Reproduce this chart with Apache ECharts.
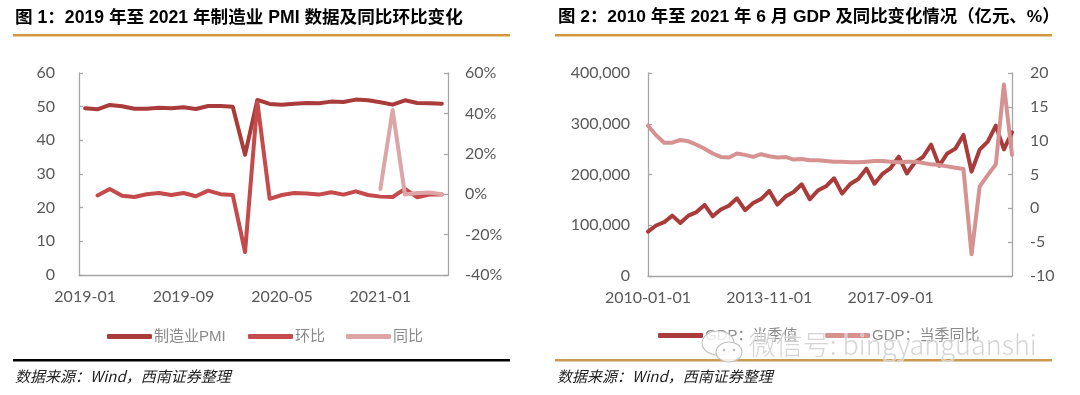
<!DOCTYPE html>
<html>
<head>
<meta charset="utf-8">
<script src="https://cdn.jsdelivr.net/npm/echarts@6/dist/echarts.min.js"></script>
<style>
html,body{margin:0;padding:0;background:#fff;}
#c{width:1080px;height:395px;}
</style>
</head>
<body>
<div id="c"></div>
<script>
// ---- Figure 1 data ----
var pmiMonths = ['2019-01','2019-02','2019-03','2019-04','2019-05','2019-06','2019-07','2019-08','2019-09','2019-10','2019-11','2019-12',
  '2020-01','2020-02','2020-03','2020-04','2020-05','2020-06','2020-07','2020-08','2020-09','2020-10','2020-11','2020-12',
  '2021-01','2021-02','2021-03','2021-04','2021-05','2021-06'];
var pmiValues = [49.5,49.2,50.5,50.1,49.4,49.4,49.7,49.5,49.8,49.3,50.2,50.2,50.0,35.7,52.0,50.8,50.6,50.9,51.1,51.0,51.5,51.4,52.1,51.9,51.3,50.6,51.9,51.1,51.0,50.9];
var pmiMoM = [null,-0.6,2.6,-0.8,-1.4,0.0,0.6,-0.4,0.6,-1.0,1.8,0.0,-0.4,-28.6,45.7,-2.3,-0.4,0.6,0.4,-0.2,1.0,-0.2,1.4,-0.4,-1.2,-1.4,2.6,-1.5,-0.2,-0.2];
var pmiYoY = [null,null,null,null,null,null,null,null,null,null,null,null,null,null,null,null,null,null,null,null,null,null,null,null,2.6,41.7,-0.2,0.6,0.8,0.0];
var pmiLeftTicks = [0,10,20,30,40,50,60];
var pmiRightTicks = ['-40%','-20%','0%','20%','40%','60%'];

// ---- Figure 2 data ----
var gdpQuarters = ['2010Q1','2010Q2','2010Q3','2010Q4','2011Q1','2011Q2','2011Q3','2011Q4','2012Q1','2012Q2','2012Q3','2012Q4',
  '2013Q1','2013Q2','2013Q3','2013Q4','2014Q1','2014Q2','2014Q3','2014Q4','2015Q1','2015Q2','2015Q3','2015Q4',
  '2016Q1','2016Q2','2016Q3','2016Q4','2017Q1','2017Q2','2017Q3','2017Q4','2018Q1','2018Q2','2018Q3','2018Q4',
  '2019Q1','2019Q2','2019Q3','2019Q4','2020Q1','2020Q2','2020Q3','2020Q4','2021Q1','2021Q2'];
var gdpValue = [87500,99500,106000,119000,104500,119000,126000,140000,117600,131000,138500,153000,
  129700,143700,152000,167500,140600,156500,165500,180700,151100,168500,176700,192600,
  162400,181400,191000,211600,181900,201300,212800,235400,202000,223900,234500,258800,
  217200,241500,251000,278000,205700,248900,264900,296300,249300,282900];
var gdpYoY = [12.2,10.8,9.7,9.7,10.1,9.9,9.4,8.8,8.1,7.6,7.5,8.1,7.9,7.6,8.0,7.7,7.5,7.6,7.2,7.3,7.1,7.1,7.0,6.9,
  6.9,6.8,6.8,6.9,7.0,7.0,6.9,6.8,6.9,6.9,6.7,6.5,6.4,6.2,6.0,5.8,-6.8,3.2,4.9,6.5,18.3,7.9];
var gdpTickLabels = ['2010-01-01','2013-11-01','2017-09-01'];
var gdpTickIndex = [0,15,30];

var C_DARK = '#a93b3b', C_MID = '#c44a4b', C_LIGHT = '#dda5a5', C_GDPYOY = '#d69191';
var AX = '#a6a6a6', LBL = '#595959';
var NUMF = 'Lato, "Liberation Sans", sans-serif';
var CJK = '"Liberation Sans", "Noto Sans CJK SC", sans-serif';

var chart = echarts.init(document.getElementById('c'), null, {renderer:'canvas'});

function yAxisBase(extra){
  var o = {
    type:'value',
    axisLine:{show:true, lineStyle:{color:AX, width:1.3}},
    axisTick:{show:true, inside:true, length:4, lineStyle:{color:AX, width:1.3}},
    splitLine:{show:false},
    axisLabel:{color:LBL, fontSize:16, fontFamily:NUMF}
  };
  for (var k in extra) o[k] = extra[k];
  return o;
}
function legendItem(name, left, top){
  return {data:[name], left:left, top:top, itemWidth:45, itemHeight:5, icon:'roundRect',
    textStyle:{color:'#8a8a8a', fontSize:15, fontFamily:CJK, padding:[0,0,0,-3]}};
}

var option = {
  animation:false,
  backgroundColor:'#fff',
  grid:[
    {left:79, right:632, top:73, bottom:120},
    {left:648, right:68, top:73, bottom:119}
  ],
  xAxis:[
    {type:'category', gridIndex:0, data:pmiMonths, boundaryGap:true,
     axisLine:{show:true, lineStyle:{color:AX, width:1.3}}, axisTick:{show:false},
     axisLabel:{interval:7, color:LBL, fontSize:16, fontFamily:NUMF, margin:14}},
    {type:'category', gridIndex:1, data:gdpQuarters, boundaryGap:false,
     axisLine:{show:true, lineStyle:{color:AX, width:1.3}}, axisTick:{show:false},
     axisLabel:{color:LBL, fontSize:16, fontFamily:NUMF, margin:14,
       interval:function(i){ return gdpTickIndex.indexOf(i) >= 0; },
       formatter:function(v, i){ var k = gdpTickIndex.indexOf(i); return k >= 0 ? gdpTickLabels[k] : ''; }}}
  ],
  yAxis:[
    yAxisBase({gridIndex:0, position:'left', min:pmiLeftTicks[0], max:pmiLeftTicks[pmiLeftTicks.length-1], interval:10,
      axisLabel:{color:LBL, fontSize:16, fontFamily:NUMF, margin:24}}),
    yAxisBase({gridIndex:0, position:'right', min:-40, max:60, interval:20,
      axisLabel:{color:LBL, fontSize:16, fontFamily:NUMF, margin:17,
        formatter:function(v){ var i = Math.round((v+40)/20); return pmiRightTicks[i]; }}}),
    yAxisBase({gridIndex:1, position:'left', min:0, max:400000, interval:100000,
      axisLabel:{color:LBL, fontSize:16, fontFamily:NUMF, margin:18,
        formatter:function(v){ return v.toString().replace(/\B(?=(\d{3})+(?!\d))/g, ','); }}}),
    yAxisBase({gridIndex:1, position:'right', min:-10, max:20, interval:5,
      axisLabel:{color:LBL, fontSize:16, fontFamily:NUMF, margin:18}})
  ],
  legend:[
    legendItem('制造业PMI', 102, 324),
    legendItem('环比', 243, 324),
    legendItem('同比', 341, 324),
    legendItem('GDP：当季值', 653, 323),
    legendItem('GDP：当季同比', 820, 323)
  ],
  series:[
    {name:'制造业PMI', type:'line', xAxisIndex:0, yAxisIndex:0, data:pmiValues, showSymbol:false,
     lineStyle:{color:C_DARK, width:4, join:'round', cap:'round'}, itemStyle:{color:C_DARK}},
    {name:'环比', type:'line', xAxisIndex:0, yAxisIndex:1, data:pmiMoM, showSymbol:false,
     lineStyle:{color:C_MID, width:4, join:'round', cap:'round'}, itemStyle:{color:C_MID}},
    {name:'同比', type:'line', xAxisIndex:0, yAxisIndex:1, data:pmiYoY, showSymbol:false,
     lineStyle:{color:C_LIGHT, width:4, join:'round', cap:'round'}, itemStyle:{color:C_LIGHT}},
    {name:'GDP：当季值', type:'line', xAxisIndex:1, yAxisIndex:2, data:gdpValue, showSymbol:false,
     lineStyle:{color:C_DARK, width:4, join:'round', cap:'round'}, itemStyle:{color:C_DARK}},
    {name:'GDP：当季同比', type:'line', xAxisIndex:1, yAxisIndex:3, data:gdpYoY, showSymbol:false,
     lineStyle:{color:C_GDPYOY, width:4, join:'round', cap:'round'}, itemStyle:{color:C_GDPYOY}}
  ],
  graphic:[
    {type:'text', left:15, top:9, style:{text:'图 1：2019 年至 2021 年制造业 PMI 数据及同比环比变化', fill:'#000',
      font:'bold 17.6px "Liberation Sans", "Noto Sans CJK SC", sans-serif'}},
    {type:'text', left:558, top:9, style:{text:'图 2：2010 年至 2021 年 6 月 GDP 及同比变化情况（亿元、%）', fill:'#000',
      font:'bold 17.4px "Liberation Sans", "Noto Sans CJK SC", sans-serif'}},
    {type:'rect', shape:{x:13, y:34, width:497, height:2.5}, style:{fill:'#d1973e'}},
    {type:'rect', shape:{x:555, y:34, width:497, height:2.5}, style:{fill:'#d1973e'}},
    {type:'rect', shape:{x:13, y:359, width:497, height:2.5}, style:{fill:'#000'}},
    {type:'rect', shape:{x:555, y:359, width:497, height:2.5}, style:{fill:'#c99a52'}},
    {type:'text', left:15, top:369, style:{text:'数据来源：Wind，西南证券整理', fill:'#222',
      font:'italic 15px "Noto Sans CJK SC", sans-serif'}},
    {type:'text', left:557, top:369, style:{text:'数据来源：Wind，西南证券整理', fill:'#222',
      font:'italic 15px "Noto Sans CJK SC", sans-serif'}},
    // watermark
    {type:'ellipse', shape:{cx:718, cy:343, rx:16, ry:12}, style:{fill:'rgba(255,255,255,0.8)', stroke:'#c2c2c2', lineWidth:1.2}, z:100},
    {type:'ellipse', shape:{cx:729, cy:352, rx:13, ry:10}, style:{fill:'rgba(255,255,255,0.85)', stroke:'#c2c2c2', lineWidth:1.2}, z:101},
    {type:'circle', shape:{cx:724, cy:350, r:1.3}, style:{fill:'#bbb'}, z:102},
    {type:'circle', shape:{cx:734, cy:350, r:1.3}, style:{fill:'#bbb'}, z:102},
    {type:'text', left:748, top:330, z:103, style:{text:'微信号: bingyanguanshi', fill:'rgba(195,195,195,0.7)',
      stroke:'rgba(255,255,255,0.6)', lineWidth:1.5, font:'300 27px "Noto Sans CJK SC", sans-serif'}}
  ]
};
chart.setOption(option);
</script>
</body>
</html>
